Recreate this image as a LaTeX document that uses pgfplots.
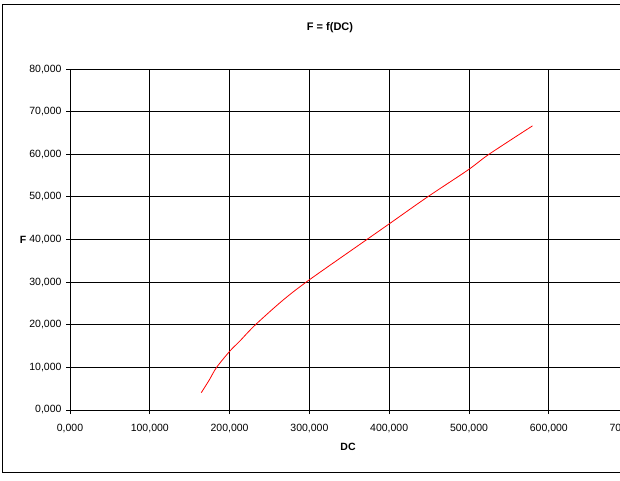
\documentclass[border=0pt]{standalone}
\usepackage{fontspec}
\setmainfont{Liberation Sans}
\usepackage{pgfplots}
\pgfplotsset{compat=1.18}
\begin{document}
\begin{tikzpicture}
\path[use as bounding box] (0pt,0pt) rectangle (620pt,480pt);
\clip (0pt,0pt) rectangle (620pt,480pt);
\draw[line width=0.9pt] (2pt,8pt) rectangle (660pt,476pt);
\begin{axis}[
  at={(70pt,70pt)}, anchor=south west,
  scale only axis, width=558.6pt, height=341pt,
  xmin=0, xmax=700000, ymin=0, ymax=80000,
  scaled x ticks=false, scaled y ticks=false,
  xtick={0,100000,200000,300000,400000,500000,600000,700000},
  xticklabels={{0,000},{100,000},{200,000},{300,000},{400,000},{500,000},{600,000},{700,000}},
  ytick={0,10000,20000,30000,40000,50000,60000,70000,80000},
  yticklabels={{0,000},{10,000},{20,000},{30,000},{40,000},{50,000},{60,000},{70,000},{80,000}},
  tick pos=left, tick align=outside, major tick length=4pt,
  tick style={black, line width=0.9pt},
  grid=major, grid style={black, line width=0.9pt},
  axis line style={black, line width=0.9pt},
  ticklabel style={font=\fontsize{10.5}{12}\selectfont},
  xticklabel style={yshift=-7pt},
  yticklabel style={xshift=-1pt},
]
\addplot[red, line width=0.8pt, smooth, tension=0.5] coordinates {
(164500,4060) (174500,7040) (183770,10020) (200800,13920) (212080,16030)
(232120,19950) (267200,25820) (299770,30520) (370790,39840) (399970,43660)
(447580,49930) (498940,56340) (525250,60020) (579610,66670)
};
\end{axis}
\node[font=\bfseries\fontsize{11}{13}\selectfont] at (330pt,452pt) {F = f(DC)};
\node[font=\bfseries\fontsize{10.5}{12}\selectfont] at (348pt,33pt) {DC};
\node[font=\bfseries\fontsize{10.5}{12}\selectfont] at (23pt,240pt) {F};
\end{tikzpicture}
\end{document}
